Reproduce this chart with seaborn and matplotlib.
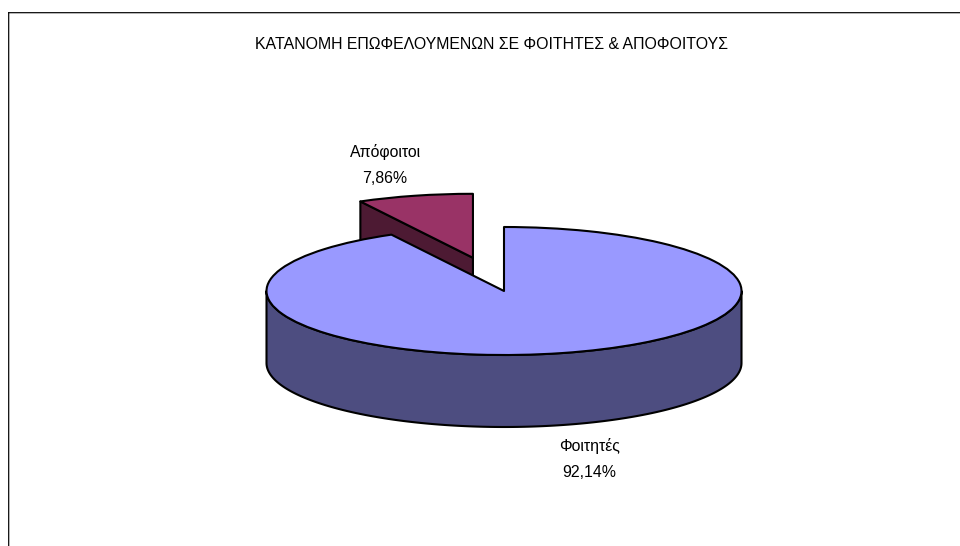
import numpy as np
import matplotlib
matplotlib.use("Agg")
import matplotlib.pyplot as plt
import seaborn as sns

title = "ΚΑΤΑΝΟΜΗ ΕΠΩΦΕΛΟΥΜΕΝΩΝ ΣΕ ΦΟΙΤΗΤΕΣ & ΑΠΟΦΟΙΤΟΥΣ"
categories = ["Φοιτητές", "Απόφοιτοι"]
values = [92.14, 7.86]
top_colors = ["#9999FF", "#993366"]
wall_colors = ["#4D4D80", "#4D1A33"]
explode = [0.0, 0.535]

W, H = 960, 546
CX, CY, RX, RY, DEPTH = 504.0, 291.0, 237.5, 64.0, 72.0
LEFT, TOP = 8.7, 12.7

sns.set_theme(style="white")
plt.rcParams["font.family"] = ["Liberation Sans", "DejaVu Sans"]

fig = plt.figure(figsize=(W / 100, H / 100), dpi=100, facecolor="white")
ax = fig.add_axes([LEFT / W, 0, 1 - LEFT / W, (H - TOP) / H])

wedges, _ = ax.pie(values, startangle=90, counterclock=False, explode=explode,
                   colors=top_colors, radius=1.0,
                   wedgeprops=dict(edgecolor="black", linewidth=1.5, joinstyle="round"))
ax.set_aspect("auto")
ax.set_xlim((LEFT - CX) / RX, (W - CX) / RX)
ax.set_ylim((CY - H) / RY, (CY - TOP) / RY)
ax.set_frame_on(True)
for side in ["left", "top"]:
    ax.spines[side].set_visible(True)
    ax.spines[side].set_color("black")
    ax.spines[side].set_linewidth(0.86)
    ax.spines[side].set_snap(False)
for side in ["right", "bottom"]:
    ax.spines[side].set_visible(False)

depth = DEPTH / RY
fracs = np.array(values) / sum(values)
ends = np.cumsum(fracs) * 2 * np.pi
starts = ends - fracs * 2 * np.pi


def wall(xy, color, z):
    ax.fill(xy[:, 0], xy[:, 1], facecolor=color, edgecolor="black",
            linewidth=1.5, joinstyle="round", zorder=z)


# main slice: outer wall visible on the front half of the ellipse
t0, t1 = max(starts[0], np.pi / 2), min(ends[0], 3 * np.pi / 2)
t = np.linspace(t0, t1, 200)
outer = np.column_stack([np.sin(t), np.cos(t)])
low = outer - [0, depth]
wall(np.vstack([outer, low[::-1]]), wall_colors[0], 3)

# exploded slice: radial wall on its left side, running down from the cut face
mid = (starts[1] + ends[1]) / 2
off = explode[1] * np.array([np.sin(mid), np.cos(mid)])
rim = off + [np.sin(starts[1]), np.cos(starts[1])]
face = np.array([off, rim, rim - [0, depth], off - [0, depth]])
wall(face, wall_colors[1], 1)

wedges[0].set_zorder(4)
wedges[1].set_zorder(2)


def px(x, y):
    return (x - CX) / RX, (CY - y) / RY


def pct(v):
    return f"{v:.2f}%".replace(".", ",")


txt = dict(ha="center", va="baseline", color="black", fontsize=11.4, zorder=6)
ax.text(*px(492, 49), title, **txt)
ax.text(*px(385.5, 157), categories[1], **txt)
ax.text(*px(385, 183), pct(values[1]), **txt)
ax.text(*px(590, 451), categories[0], **txt)
ax.text(*px(589.5, 477), pct(values[0]), **txt)

fig.savefig("out.png", dpi=100)
